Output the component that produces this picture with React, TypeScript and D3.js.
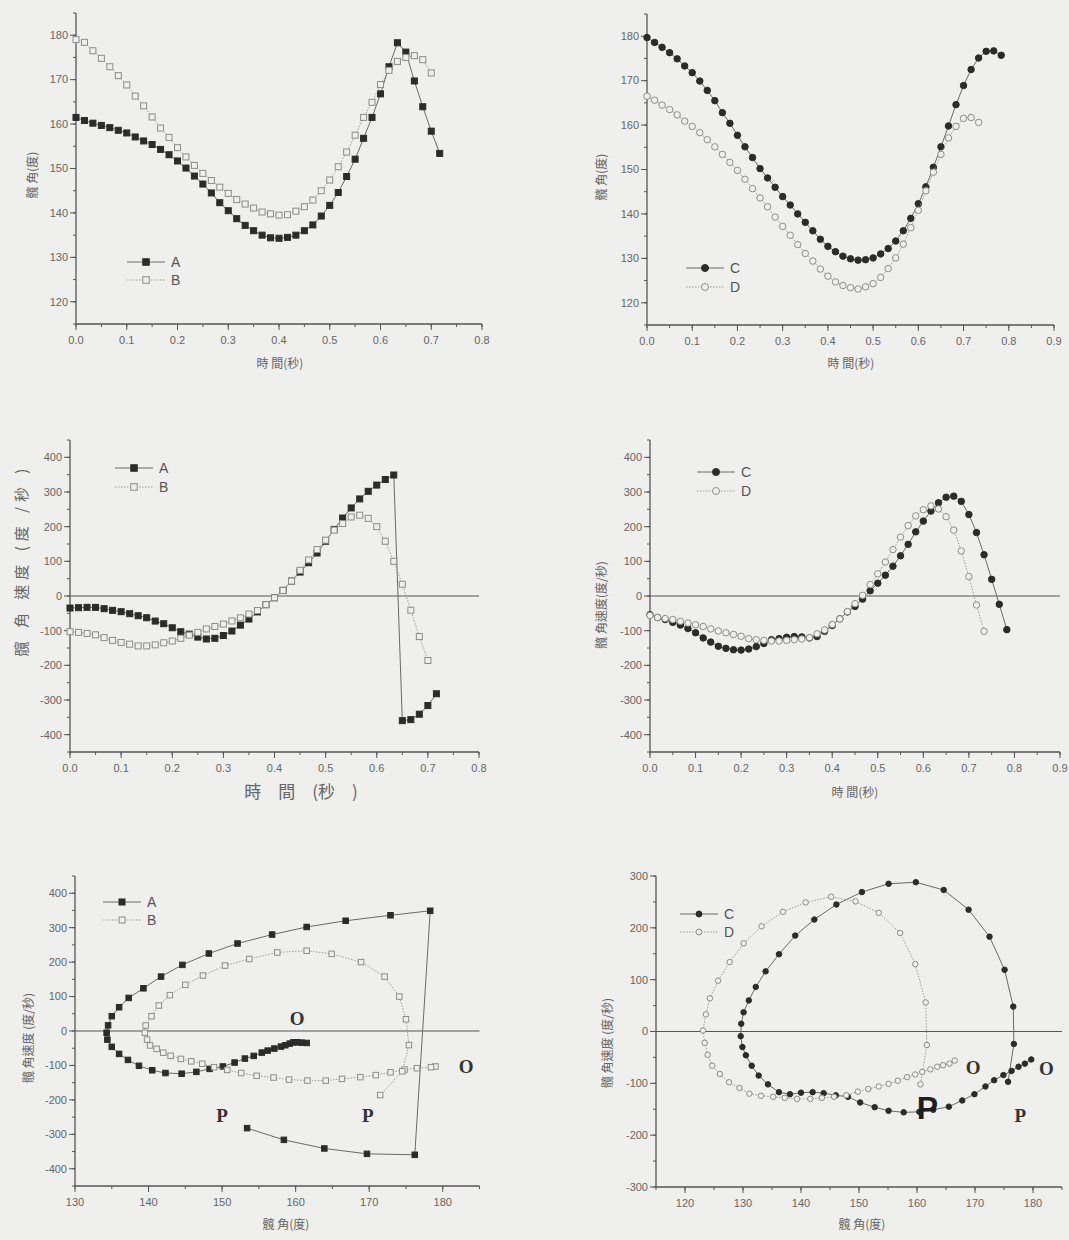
import React from 'react';
import * as d3 from 'd3';

// sampling instants (s), one frame = 1/60 s
const frameTimes = [0, 0.0167, 0.0333, 0.05, 0.0667, 0.0833, 0.1, 0.1167, 0.1333, 0.15, 0.1667, 0.1833, 0.2, 0.2167, 0.2333, 0.25, 0.2667, 0.2833, 0.3, 0.3167, 0.3333, 0.35, 0.3667, 0.3833, 0.4, 0.4167, 0.4333, 0.45, 0.4667, 0.4833, 0.5, 0.5167, 0.5333, 0.55, 0.5667, 0.5833, 0.6, 0.6167, 0.6333, 0.65, 0.6667, 0.6833, 0.7, 0.7167, 0.7333, 0.75, 0.7667, 0.7833];

// hip angle (deg)
const angleA = [161.5, 160.8, 160.2, 159.7, 159.2, 158.6, 158.0, 157.1, 156.2, 155.4, 154.3, 153.1, 151.7, 150.1, 148.3, 146.5, 144.5, 142.3, 140.5, 138.7, 137.2, 136.0, 135.0, 134.4, 134.3, 134.5, 135.0, 136.0, 137.3, 139.3, 141.7, 144.6, 148.2, 152.1, 156.8, 161.5, 166.8, 172.9, 178.3, 176.2, 169.7, 163.9, 158.4, 153.4];
const angleB = [179.0, 178.4, 176.5, 174.8, 172.9, 170.9, 168.8, 166.3, 164.1, 161.6, 159.1, 157.0, 154.7, 152.6, 150.7, 148.9, 147.3, 145.8, 144.4, 143.0, 142.0, 141.1, 140.2, 139.8, 139.5, 139.6, 140.4, 141.4, 142.9, 145.0, 147.4, 150.4, 153.7, 157.5, 161.5, 164.9, 168.9, 172.1, 174.1, 175.0, 175.4, 174.5, 171.5];
const angleC = [179.7, 178.6, 177.5, 176.3, 174.9, 173.3, 171.8, 169.9, 167.8, 165.5, 162.8, 160.4, 157.7, 155.1, 152.7, 150.2, 148.1, 146.0, 143.9, 142.0, 140.0, 138.1, 136.2, 134.3, 132.7, 131.5, 130.5, 129.9, 129.6, 129.7, 130.1, 131.0, 132.2, 133.9, 136.2, 139.0, 142.3, 146.1, 150.5, 155.1, 159.8, 164.6, 168.9, 172.5, 175.1, 176.6, 176.7, 175.7];
const angleD = [166.5, 165.6, 164.5, 163.5, 162.3, 160.9, 159.7, 158.3, 156.7, 155.1, 153.4, 151.6, 149.8, 147.8, 145.7, 143.6, 141.6, 139.3, 137.2, 135.2, 133.1, 131.1, 129.4, 127.6, 126.0, 124.7, 123.9, 123.4, 123.1, 123.6, 124.3, 125.7, 127.7, 130.1, 133.2, 136.9, 140.8, 145.2, 149.4, 153.4, 157.1, 159.7, 161.5, 161.7, 160.6];

// hip angular velocity (deg/s)
const velA = [-34.7, -33.7, -32.8, -32.8, -36.6, -41.4, -45.3, -51, -56.9, -62.7, -72.3, -80, -91.6, -103, -110, -118.6, -124, -122, -114, -101, -84, -66.5, -46, -25, -5, 16.4, 43, 69, 96, 124, 158, 192, 225, 254, 280, 302, 320, 336, 349, -359.5, -356.6, -341, -316, -282];
const velB = [-103, -105, -108, -112, -120, -128, -134, -139, -144, -144, -141, -135, -130, -122, -113, -105, -95, -88, -81, -72, -63, -52, -42, -25, -5, 16, 43, 74, 104, 134, 161, 190, 209, 228, 233, 224, 200, 158, 100, 34, -41, -117, -186];
const velC = [-54, -62, -68, -76, -84, -94, -106, -121, -133, -145, -151, -155, -156, -153, -146, -137, -126, -123, -119, -117, -118, -121, -117, -102, -85, -66, -46, -30, -9, 15, 37, 60, 86, 116, 149, 185, 216, 245, 269, 285, 288, 273, 235, 183, 119, 48, -24, -97];
const velD = [-56, -62, -65, -68, -73, -78, -83, -88, -95, -101, -106, -111, -116, -123, -126, -128, -130, -130, -128, -126, -124, -120, -109, -98, -82, -66, -45, -22, 2, 33, 64, 98, 134, 170, 203, 231, 249, 260, 251, 229, 190, 130, 56, -26, -102];

const timeTicks = [0, 0.1, 0.2, 0.3, 0.4, 0.5, 0.6, 0.7, 0.8, 0.9];
const angleTicks = [120, 130, 140, 150, 160, 170, 180];
const velTicks = [-400, -300, -200, -100, 0, 100, 200, 300, 400];

const BG = '#efefed';
const AXIS = '#555';
const TICKTXT = '#666';
const DARK = '#2b2b2b';
const LIGHT = '#8c8c8c';
const SANS = '"Liberation Sans", Arial, sans-serif';
const CJK = '"Noto Sans CJK TC", "Noto Sans CJK SC", sans-serif';
const SERIF = '"Liberation Serif", "DejaVu Serif", serif';

const times = (n) => frameTimes.slice(0, n);

function Marker({ shape, filled, cx, cy, s }) {
  const fill = filled ? DARK : BG;
  const stroke = filled ? DARK : LIGHT;
  if (shape === 'square')
    return <rect x={cx - s / 2} y={cy - s / 2} width={s} height={s} fill={fill} stroke={stroke} strokeWidth={1} />;
  return <circle cx={cx} cy={cy} r={s / 2} fill={fill} stroke={stroke} strokeWidth={1} />;
}

function Panel({ cfg }) {
  const x = d3.scaleLinear().domain(cfg.xDomain).range(cfg.xRange);
  const y = d3.scaleLinear().domain(cfg.yDomain).range(cfg.yRange);
  const [x0, x1] = cfg.xRange;
  const [yb, yt] = cfg.yRange;
  const line = d3.line().x((d) => x(d[0])).y((d) => y(d[1]));

  const xMajor = cfg.xTicks.filter((t) => t >= cfg.xDomain[0] - 1e-9 && t <= cfg.xDomain[1] + 1e-9);
  const xMinor = d3.range(cfg.xDomain[0], cfg.xDomain[1] + cfg.xMinor / 2, cfg.xMinor);
  const yMajor = cfg.yTicks.filter((t) => t >= cfg.yDomain[0] && t <= cfg.yDomain[1]);
  const yMinor = d3.range(Math.ceil(cfg.yDomain[0] / cfg.yMinor) * cfg.yMinor, cfg.yDomain[1] + 1e-9, cfg.yMinor);

  return (
    <g>
      {cfg.zeroLine && <line x1={x0} x2={x1} y1={y(0)} y2={y(0)} stroke={AXIS} strokeWidth={1.2} />}
      {/* axes */}
      <line x1={x0} x2={x0} y1={yb} y2={yt} stroke={AXIS} strokeWidth={1.3} />
      <line x1={x0} x2={x1} y1={yb} y2={yb} stroke={AXIS} strokeWidth={1.3} />
      {yMinor.map((t, i) => (
        <line key={'ym' + i} x1={x0 - 3} x2={x0} y1={y(t)} y2={y(t)} stroke={AXIS} strokeWidth={1} />
      ))}
      {yMajor.map((t) => (
        <g key={'y' + t}>
          <line x1={x0 - 6} x2={x0} y1={y(t)} y2={y(t)} stroke={AXIS} strokeWidth={1} />
          <text x={x0 - 8} y={y(t)} dy="0.35em" textAnchor="end" fontSize={11} fontFamily={SANS} fill={TICKTXT}>
            {t}
          </text>
        </g>
      ))}
      {xMinor.map((t, i) => (
        <line key={'xm' + i} x1={x(t)} x2={x(t)} y1={yb} y2={yb + 3} stroke={AXIS} strokeWidth={1} />
      ))}
      {xMajor.map((t) => (
        <g key={'x' + t}>
          <line x1={x(t)} x2={x(t)} y1={yb} y2={yb + 6} stroke={AXIS} strokeWidth={1} />
          <text x={x(t)} y={yb + 20} textAnchor="middle" fontSize={11} fontFamily={SANS} fill={TICKTXT}>
            {cfg.xFormat(t)}
          </text>
        </g>
      ))}
      <text x={cfg.xLabel.x} y={cfg.xLabel.y} textAnchor="middle" fontSize={cfg.xLabel.size} fontFamily={CJK} fill={TICKTXT}>
        {cfg.xLabel.text}
      </text>
      <text
        transform={`translate(${cfg.yLabel.x},${cfg.yLabel.y}) rotate(-90)`}
        textAnchor="middle"
        dy="0.35em"
        fontSize={cfg.yLabel.size}
        letterSpacing={cfg.yLabel.spacing || 0}
        fontFamily={CJK}
        fill={TICKTXT}
      >
        {cfg.yLabel.text}
      </text>

      {cfg.series.map((s) => {
        const pts = s.xs.map((v, i) => [v, s.ys[i]]);
        return (
          <g key={s.name}>
            <path
              d={line(pts)}
              fill="none"
              stroke={s.filled ? '#6a6a6a' : '#9a9a9a'}
              strokeWidth={1}
              strokeDasharray={s.filled ? null : '1.5,1.5'}
            />
            {pts.map((p, i) => (
              <Marker key={i} shape={s.shape} filled={s.filled} cx={x(p[0])} cy={y(p[1])} s={cfg.markerSize} />
            ))}
          </g>
        );
      })}

      {cfg.series.map((s, i) => {
        const ly = cfg.legend.y + i * cfg.legend.dy;
        const lx = cfg.legend.x;
        return (
          <g key={'lg' + s.name}>
            <line
              x1={lx}
              x2={lx + 38}
              y1={ly}
              y2={ly}
              stroke={s.filled ? '#6a6a6a' : '#9a9a9a'}
              strokeDasharray={s.filled ? null : '1.5,1.5'}
            />
            <Marker shape={s.shape} filled={s.filled} cx={lx + 19} cy={ly} s={cfg.markerSize + 0.5} />
            <text x={lx + 44} y={ly} dy="0.36em" fontSize={14} fontFamily={SANS} fill="#555">
              {s.name}
            </text>
          </g>
        );
      })}

      {(cfg.notes || []).map((n, i) => (
        <text
          key={'n' + i}
          x={x(n.at[0])}
          y={y(n.at[1])}
          dy="0.35em"
          textAnchor="middle"
          fontSize={n.size}
          fontWeight="bold"
          fontFamily={n.sans ? SANS : SERIF}
          fill={n.sans ? '#1e1e1e' : '#333'}
        >
          {n.text}
        </text>
      ))}
    </g>
  );
}

const fmt1 = (t) => t.toFixed(1);
const fmt0 = (t) => String(t);

const panels = [
  {
    xDomain: [0, 0.8], xRange: [76, 482], yDomain: [115, 185], yRange: [324, 13],
    xTicks: timeTicks, xMinor: 0.05, yTicks: angleTicks, yMinor: 5, xFormat: fmt1, markerSize: 6,
    xLabel: { text: '時 間(秒)', x: 280, y: 368, size: 12 },
    yLabel: { text: '髖 角(度)', x: 33, y: 175, size: 12 },
    legend: { x: 127, y: 262, dy: 18 },
    series: [
      { name: 'A', xs: times(angleA.length), ys: angleA, filled: true, shape: 'square' },
      { name: 'B', xs: times(angleB.length), ys: angleB, filled: false, shape: 'square' },
    ],
  },
  {
    xDomain: [0, 0.9], xRange: [647, 1054], yDomain: [115, 185], yRange: [325, 14],
    xTicks: timeTicks, xMinor: 0.05, yTicks: angleTicks, yMinor: 5, xFormat: fmt1, markerSize: 6.5,
    xLabel: { text: '時 間(秒)', x: 851, y: 368, size: 12 },
    yLabel: { text: '髖 角(度)', x: 602, y: 177, size: 12 },
    legend: { x: 686, y: 268, dy: 19 },
    series: [
      { name: 'C', xs: times(angleC.length), ys: angleC, filled: true, shape: 'circle' },
      { name: 'D', xs: times(angleD.length), ys: angleD, filled: false, shape: 'circle' },
    ],
  },
  {
    xDomain: [0, 0.8], xRange: [70, 479], yDomain: [-450, 450], yRange: [752, 440],
    xTicks: timeTicks, xMinor: 0.05, yTicks: velTicks, yMinor: 50, xFormat: fmt1, markerSize: 6,
    zeroLine: true,
    xLabel: { text: '時　間　(秒　)', x: 301, y: 798, size: 17 },
    yLabel: { text: '髖 角 速度 (度 /秒 )', x: 22, y: 560, size: 15, spacing: 5 },
    legend: { x: 115, y: 468, dy: 19 },
    series: [
      { name: 'A', xs: times(velA.length), ys: velA, filled: true, shape: 'square' },
      { name: 'B', xs: times(velB.length), ys: velB, filled: false, shape: 'square' },
    ],
  },
  {
    xDomain: [0, 0.9], xRange: [650, 1060], yDomain: [-450, 450], yRange: [752, 440],
    xTicks: timeTicks, xMinor: 0.05, yTicks: velTicks, yMinor: 50, xFormat: fmt1, markerSize: 6.5,
    zeroLine: true,
    xLabel: { text: '時 間(秒)', x: 855, y: 797, size: 12 },
    yLabel: { text: '髖 角速度(度/秒)', x: 602, y: 605, size: 12 },
    legend: { x: 697, y: 472, dy: 19 },
    series: [
      { name: 'C', xs: times(velC.length), ys: velC, filled: true, shape: 'circle' },
      { name: 'D', xs: times(velD.length), ys: velD, filled: false, shape: 'circle' },
    ],
  },
  {
    xDomain: [130, 185], xRange: [75, 479.5], yDomain: [-450, 450], yRange: [1186, 876],
    xTicks: angleTicks, xMinor: 5, yTicks: velTicks, yMinor: 50, xFormat: fmt0, markerSize: 5.5,
    zeroLine: true,
    xLabel: { text: '髖 角(度)', x: 286, y: 1229, size: 12 },
    yLabel: { text: '髖 角速度 (度/秒)', x: 29, y: 1038, size: 12 },
    legend: { x: 103, y: 902, dy: 18 },
    series: [
      { name: 'A', xs: angleA, ys: velA, filled: true, shape: 'square' },
      { name: 'B', xs: angleB, ys: velB, filled: false, shape: 'square' },
    ],
    notes: [
      { text: 'O', at: [160.2, 38], size: 19 },
      { text: 'O', at: [183.2, -104], size: 19 },
      { text: 'P', at: [150, -244], size: 19 },
      { text: 'P', at: [169.8, -244], size: 19 },
    ],
  },
  {
    xDomain: [115, 185], xRange: [656, 1062], yDomain: [-300, 300], yRange: [1187, 876],
    xTicks: angleTicks, xMinor: 5, yTicks: velTicks, yMinor: 50, xFormat: fmt0, markerSize: 5.5,
    zeroLine: true,
    xLabel: { text: '髖 角(度)', x: 862, y: 1229, size: 12 },
    yLabel: { text: '髖 角速度 (度/秒)', x: 608, y: 1043, size: 12 },
    legend: { x: 680, y: 914, dy: 18 },
    series: [
      { name: 'C', xs: angleC, ys: velC, filled: true, shape: 'circle' },
      { name: 'D', xs: angleD, ys: velD, filled: false, shape: 'circle' },
    ],
    notes: [
      { text: 'O', at: [169.7, -69], size: 19 },
      { text: 'O', at: [182.3, -71], size: 19 },
      { text: 'P', at: [161.8, -148], size: 32, sans: true },
      { text: 'P', at: [177.8, -161], size: 19 },
    ],
  },
];

export default function App() {
  return (
    <svg
      width={1069}
      height={1240}
      style={{ position: 'absolute', left: 0, top: 0, background: BG }}
    >
      <rect width={1069} height={1240} fill={BG} />
      {panels.map((p, i) => (
        <Panel key={i} cfg={p} />
      ))}
    </svg>
  );
}
